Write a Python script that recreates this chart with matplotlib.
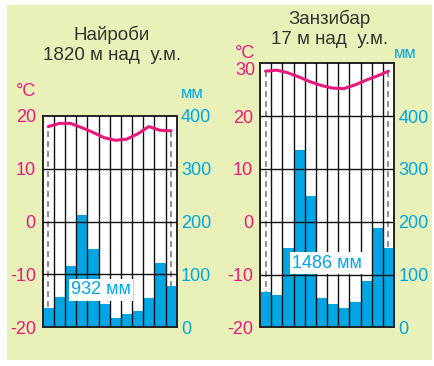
import matplotlib
matplotlib.use("Agg")
import matplotlib.pyplot as plt
import numpy as np

plt.rcParams['font.family'] = ['Liberation Sans', 'DejaVu Sans']

months = ["Я", "Ф", "М", "А", "М", "И", "И", "А", "С", "О", "Н", "Д"]
month_labels = ["Я", "", "М", "", "М", "", "И", "", "С", "", "Н", ""]

nairobi_temp = [18.0, 18.6, 18.6, 17.8, 16.9, 15.9, 15.4, 15.6, 16.6, 18.0, 17.3, 17.2]
nairobi_prec = [36, 57, 116, 212, 148, 45, 18, 26, 31, 55, 121, 78]
nairobi_title = ["Найроби", "1820 м над  у.м."]
nairobi_total = "932 мм"

zanzibar_temp = [28.5, 28.7, 28.2, 27.4, 26.5, 25.8, 25.3, 25.2, 25.9, 26.8, 27.6, 28.5]
zanzibar_prec = [66, 61, 151, 336, 249, 55, 45, 36, 47, 88, 189, 151]
zanzibar_title = ["Занзибар", "17 м над  у.м."]
zanzibar_total = "1486 мм"

temp_ticks = [-20, -10, 0, 10, 20]
prec_ticks = [0, 100, 200, 300, 400]

PINK = "#e8197d"
BLUE = "#00a6e4"
BG = "#e9f1b9"
TXT = "#333333"

W, H = 435, 366
fig = plt.figure(figsize=(W / 100, H / 100), dpi=100)
fig.patch.set_facecolor("white")
fig.add_artist(plt.Rectangle((7 / W, 1 - 360 / H), (432 - 7) / W, (360 - 5) / H,
                             transform=fig.transFigure, facecolor=BG, edgecolor="none", zorder=-10))


def fx(px):
    return px / W


def fy(py):
    return 1 - py / H


def panel(rect, temps, prec, tmax, title, title_pos, total, total_xy, degc_xy, mm_xy):
    ax2 = fig.add_axes(rect)
    ax = ax2.twinx()
    ax.set_zorder(ax2.get_zorder() + 1)
    ax.patch.set_visible(False)
    ax2.set_facecolor("white")
    x = np.arange(len(months))
    tmin = -20
    ax.set_ylim(tmin, tmax)
    ax2.set_ylim(0, (tmax - tmin) * 10)
    ax.set_xlim(-0.5, len(months) - 0.5)
    ax2.set_xlim(-0.5, len(months) - 0.5)

    # dashed lines at first and last month (behind bars)
    ax2.vlines([x[0], x[-1]], tmin, [temps[0], temps[-1]], colors="#7a7a7a",
               linestyles=(0, (3.5, 2.5)), linewidth=1.2, transform=ax.transData, zorder=1)
    ax2.bar(x, prec, width=1.0, color=BLUE, edgecolor="none", zorder=2)

    # grid
    for b in x[:-1] + 0.5:
        ax.axvline(b, color="#111111", linewidth=1.0, zorder=3)
    for t in range(tmin + 10, tmax, 10):
        ax.axhline(t, color="#111111", linewidth=1.0, zorder=3)

    ax.plot(x, temps, color=PINK, linewidth=2.2, solid_joinstyle="round",
            solid_capstyle="round", zorder=5)

    for a in (ax, ax2):
        for s in a.spines.values():
            s.set_color("#222222")
            s.set_linewidth(1.2)
        a.tick_params(length=0)

    ax2.set_yticks([])
    ax.yaxis.tick_left()
    ax.set_yticks(temp_ticks)
    ax.set_yticklabels([str(t) for t in temp_ticks], color=PINK, fontsize=13)
    ax.tick_params(axis="y", pad=5)
    ax3 = ax.twinx()
    ax3.set_ylim(ax2.get_ylim())
    ax3.set_yticks(prec_ticks)
    ax3.set_yticklabels([str(p) for p in prec_ticks], color=BLUE, fontsize=13)
    ax3.tick_params(length=0, pad=3)
    ax3.patch.set_visible(False)
    for s in ax3.spines.values():
        s.set_visible(False)

    ax2.set_xticks(x)
    ax2.set_xticklabels(month_labels, color=TXT, fontsize=10.5)
    ax2.tick_params(axis="x", pad=4)
    ax.set_xticks([])

    ax.text(total_xy[0], total_xy[1], total, transform=fig.transFigure, color=BLUE,
            fontsize=13, ha="center", va="center", zorder=6,
            bbox=dict(boxstyle="square,pad=0.12", facecolor="white", edgecolor="none"))

    tx, ty1, ty2 = title_pos
    fig.text(tx, ty1, title[0], ha="center", va="center", fontsize=13.5, color=TXT)
    fig.text(tx, ty2, title[1], ha="center", va="center", fontsize=13.5, color=TXT)
    fig.text(degc_xy[0], degc_xy[1], "°C", ha="center", va="center", fontsize=13, color=PINK)
    fig.text(mm_xy[0], mm_xy[1], "мм", ha="center", va="center", fontsize=12, color=BLUE)
    return ax


panel([fx(42.7), fy(327.3), fx(134), 211.3 / H], nairobi_temp, nairobi_prec, 20,
      nairobi_title, (fx(112), fy(35), fy(55)), nairobi_total, (fx(101), fy(290)),
      (fx(26), fy(91)), (fx(192), fy(94)))

axr = panel([fx(260), fy(327.3), fx(134), 264 / H], zanzibar_temp, zanzibar_prec, 30,
            zanzibar_title, (fx(330), fy(19), fy(39)), zanzibar_total, (fx(327), fy(263)),
            (fx(245), fy(53)), (fx(405), fy(53)))
axr.annotate("30", xy=(0, 30), xycoords=("axes fraction", "data"), xytext=(-5, -7),
             textcoords="offset pixels", ha="right", va="center", color=PINK, fontsize=13)

fig.savefig("out.png", dpi=100, facecolor=fig.get_facecolor())
